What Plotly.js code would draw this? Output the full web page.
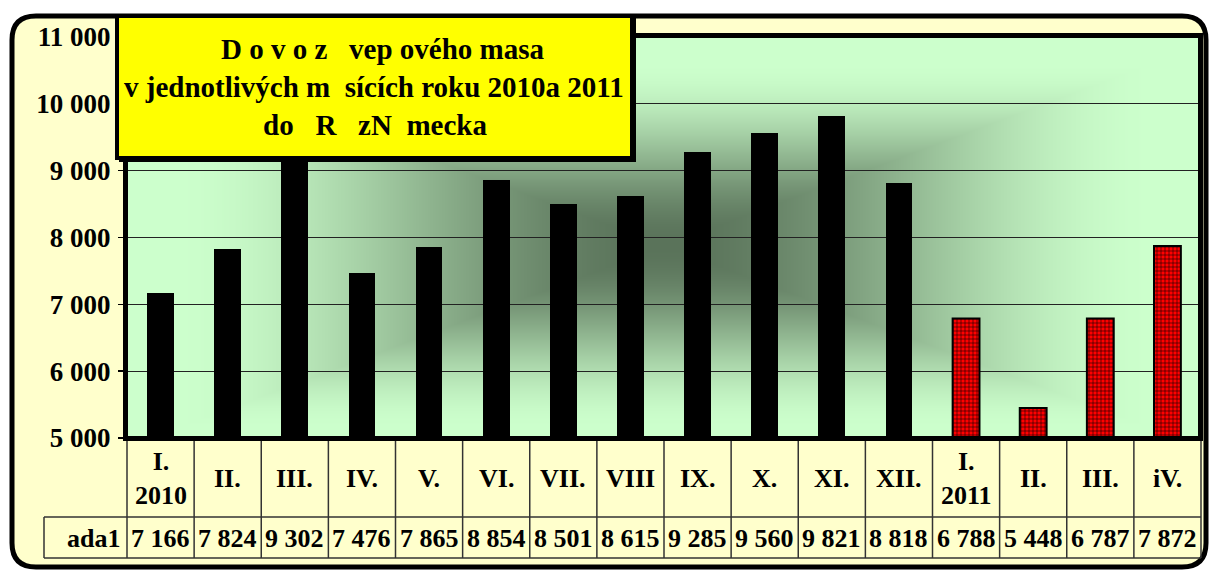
<!DOCTYPE html>
<html>
<head>
<meta charset="utf-8">
<script src="https://cdn.plot.ly/plotly-3.0.1.min.js"></script>
<style>html,body{margin:0;padding:0;background:#fff}#chart{width:1209px;height:572px}</style>
</head>
<body>
<div id="chart"></div>
<script>
// ---- data ----
const months = ['I.<br>2010','II.','III.','IV.','V.','VI.','VII.','VIII','IX.','X.','XI.','XII.','I.<br>2011','II.','III.','iV.'];
const values2010 = [7166,7824,9302,7476,7865,8854,8501,8615,9285,9560,9821,8818];
const values2011 = [6788,5448,6787,7872];
const seriesLabel = 'ada1';
const yTickVals = [5000,6000,7000,8000,9000,10000,11000];
const yTickText = ['5 000','6 000','7 000','8 000','9 000','10 000','11 000'];
const titleLines = [
  'D o v o z\u00a0\u00a0 vep ového masa',
  'v jednotlivých m\u00a0 sících roku 2010a 2011',
  'do\u00a0\u00a0 R\u00a0\u00a0 zN\u00a0 mecka'
];

// ---- geometry helpers ----
const W = 1209, H = 572;
const ML = 127, MR = 8, MT = 37, MB = 134;
const PW = W - ML - MR, PH = H - MT - MB;
const px2x = p => (p - ML) / PW;
const py2y = p => (MT + PH - p) / PH;
const P = (a, b) => px2x(a) + ',' + py2y(b);

function fmt(v){ return Math.floor(v/1000) + ' ' + String(v % 1000).padStart(3,'0'); }

function gradientURL(w, h){
  const c = document.createElement('canvas'); c.width = w; c.height = h;
  const ctx = c.getContext('2d'); const img = ctx.createImageData(w, h);
  const c0 = [90,115,90], c1 = [204,255,204];
  const cx = w*0.50, cy = h*0.52;
  for (let y = 0; y < h; y++) for (let x = 0; x < w; x++) {
    const t = Math.max(Math.abs(x - cx)/(w/2), Math.abs(y - cy)/(h/2));
    let u = Math.min(1, t/0.92);
    const f = u*u*(3 - 2*u);
    const i = (y*w + x)*4;
    for (let k = 0; k < 3; k++) img.data[i+k] = c0[k] + (c1[k]-c0[k])*f;
    img.data[i+3] = 255;
  }
  ctx.putImageData(img, 0, 0); return c.toDataURL();
}

const x2010 = values2010.map((_, i) => i);
const x2011 = values2011.map((_, i) => i + values2010.length);
const allValues = values2010.concat(values2011);

const traces = [
  {type:'bar', x:x2010, y:values2010, width:0.4,
   marker:{color:'#000000', line:{color:'#000', width:0}}, hoverinfo:'skip'},
  {type:'bar', x:x2011, y:values2011, width:0.4,
   marker:{color:'#ff0000', line:{color:'#000', width:2},
     pattern:{shape:'+', fgcolor:'#000', bgcolor:'#ff0000', size:4, solidity:0.25, fillmode:'replace'}}, hoverinfo:'skip'}
];

const serif = 'Liberation Serif, Times New Roman, serif';
const shapes = [];
// outer rounded frame
const ox0 = 12, oy0 = 16, ox1 = 1206, oy1 = 567, r = 24;
shapes.push({type:'path', xref:'paper', yref:'paper', layer:'below',
  path: 'M'+P(ox0+r,oy0)+' L'+P(ox1-r,oy0)+' Q'+P(ox1,oy0)+' '+P(ox1,oy0+r)+
        ' L'+P(ox1,oy1-r)+' Q'+P(ox1,oy1)+' '+P(ox1-r,oy1)+' L'+P(ox0+r,oy1)+
        ' Q'+P(ox0,oy1)+' '+P(ox0,oy1-r)+' L'+P(ox0,oy0+r)+' Q'+P(ox0,oy0)+' '+P(ox0+r,oy0)+' Z',
  fillcolor:'#ffffcc', line:{color:'#000', width:5}});
// plot frame
shapes.push({type:'rect', xref:'paper', yref:'paper', layer:'above',
  x0:px2x(125.5), x1:px2x(1200.5), y0:py2y(438.5), y1:py2y(35.5),
  line:{color:'#000', width:5}, fillcolor:'rgba(0,0,0,0)'});
// title box shadow + box
shapes.push({type:'rect', xref:'paper', yref:'paper', layer:'above',
  x0:px2x(119), x1:px2x(636), y0:py2y(162), y1:py2y(18), line:{width:0}, fillcolor:'#000'});
shapes.push({type:'rect', xref:'paper', yref:'paper', layer:'above',
  x0:px2x(117), x1:px2x(632), y0:py2y(158), y1:py2y(16), line:{color:'#000', width:4}, fillcolor:'#ffff00'});
// table lines
const tl = {color:'#333', width:1.5};
for (let k = 0; k <= months.length; k++) {
  shapes.push({type:'line', xref:'paper', yref:'paper', layer:'above',
    x0:k/months.length, x1:k/months.length, y0:py2y(441), y1:py2y(558), line:tl});
}
shapes.push({type:'line', xref:'paper', yref:'paper', layer:'above', x0:px2x(44), x1:px2x(44), y0:py2y(517), y1:py2y(558), line:tl});
shapes.push({type:'line', xref:'paper', yref:'paper', layer:'above', x0:px2x(44), x1:1, y0:py2y(517), y1:py2y(517), line:tl});
shapes.push({type:'line', xref:'paper', yref:'paper', layer:'above', x0:px2x(44), x1:1, y0:py2y(558), y1:py2y(558), line:tl});

const annotations = [];
const tf = s => ({family:serif, size:s, color:'#000', weight:'bold'});
months.forEach((m, i) => {
  annotations.push({xref:'x', yref:'paper', x:i, y:py2y(478), text:m, showarrow:false,
    xanchor:'center', yanchor:'middle', font:tf(26), align:'center'});
  annotations.push({xref:'x', yref:'paper', x:i, y:py2y(538), text:fmt(allValues[i]), showarrow:false,
    xanchor:'center', yanchor:'middle', font:tf(26)});
});
annotations.push({xref:'paper', yref:'paper', x:px2x(122), y:py2y(538), text:seriesLabel, showarrow:false,
  xanchor:'right', yanchor:'middle', font:tf(26)});
const titleY = [49, 87, 125];
const titleX = [383, 374, 375];
titleLines.forEach((t, i) => {
  annotations.push({xref:'paper', yref:'paper', x:px2x(titleX[i]), y:py2y(titleY[i]), text:t, showarrow:false,
    xanchor:'center', yanchor:'middle', font:tf(29)});
});

const layout = {
  width:W, height:H,
  margin:{l:ML, r:MR, t:MT, b:MB, pad:0},
  paper_bgcolor:'#ffffff', plot_bgcolor:'rgba(0,0,0,0)',
  showlegend:false, barmode:'overlay', bargap:0,
  xaxis:{range:[-0.5, months.length-0.5], showticklabels:false, ticks:'', showgrid:false, zeroline:false, showline:false, fixedrange:true},
  yaxis:{range:[5000,11000], tickvals:yTickVals, ticktext:yTickText, ticks:'outside', ticklen:8, tickwidth:1.5, tickcolor:'#000',
    showgrid:true, gridcolor:'#222', gridwidth:1.2, zeroline:false, showline:false, fixedrange:true,
    tickfont:tf(27), ticklabelstandoff:2},
  images:[{source:gradientURL(PW, PH), xref:'x', yref:'y', x:-0.5, y:11000, sizex:months.length, sizey:6000,
    sizing:'stretch', layer:'below', xanchor:'left', yanchor:'top'}],
  shapes:shapes, annotations:annotations
};

Plotly.newPlot('chart', traces, layout, {staticPlot:true, displayModeBar:false});
</script>
</body>
</html>
